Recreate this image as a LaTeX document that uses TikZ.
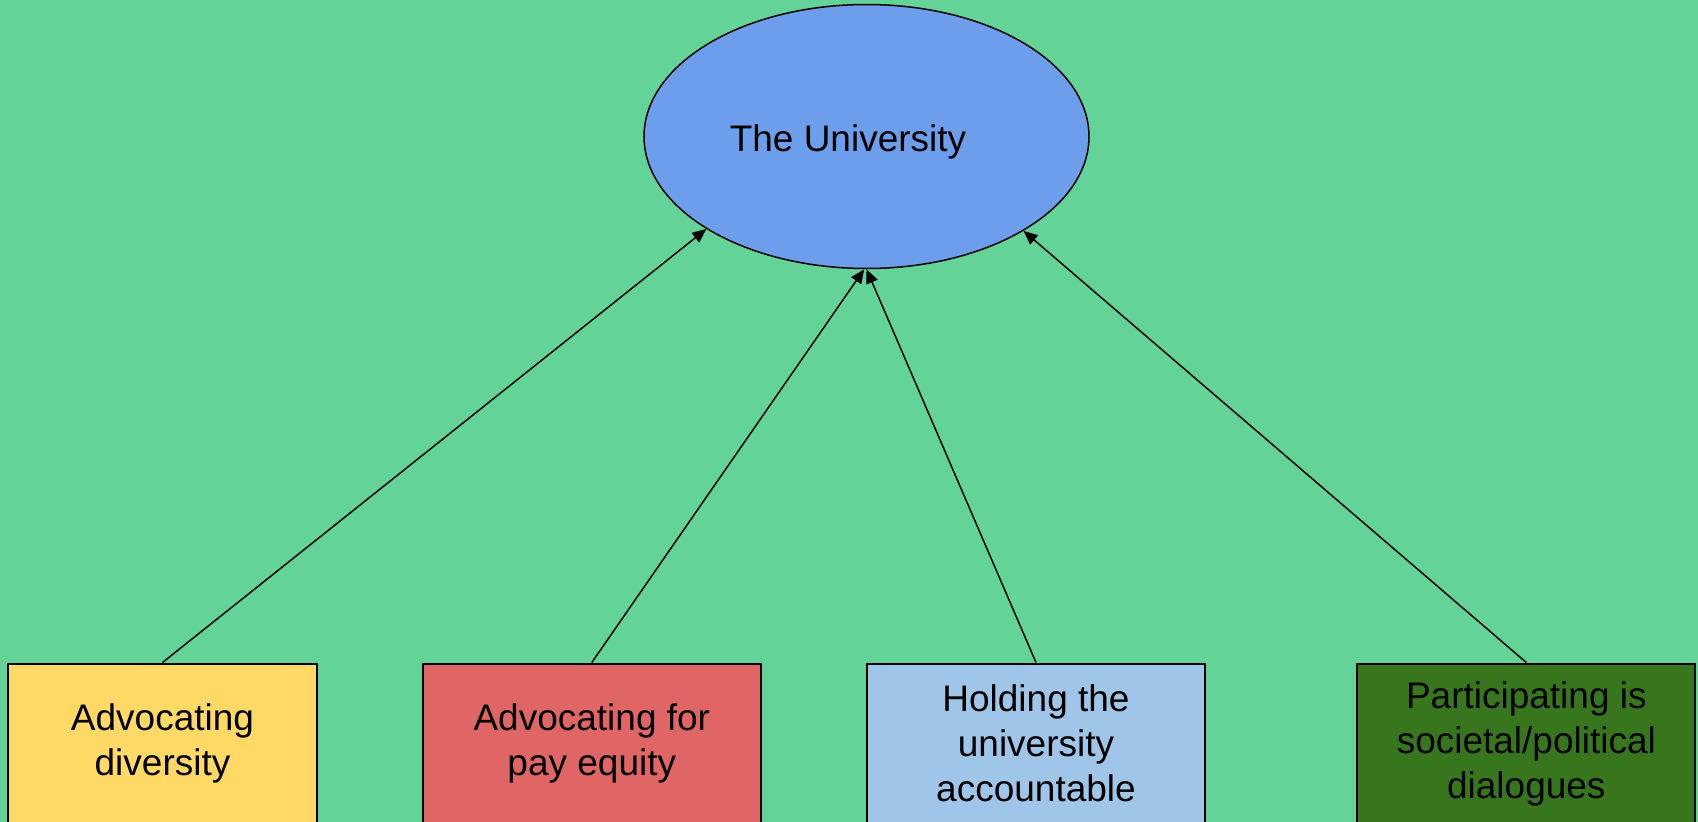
\documentclass[tikz,border=0pt]{standalone}
\usepackage{fontspec}
\setmainfont{Liberation Sans}
\usetikzlibrary{arrows.meta,shapes.geometric}
\definecolor{bggreen}{RGB}{99,211,151}
\definecolor{ublue}{RGB}{109,158,235}
\definecolor{byellow}{RGB}{255,217,102}
\definecolor{bred}{RGB}{224,102,102}
\definecolor{blblue}{RGB}{159,197,232}
\definecolor{bdgreen}{RGB}{56,118,29}
\tikzset{
  box/.style={draw=black, line width=2pt, rectangle, minimum width=309pt, minimum height=160pt, inner sep=0pt, align=center, font=\fontsize{37pt}{45pt}\selectfont},
  conn/.style={line width=1.5pt, -{Triangle[length=14pt,width=12pt]}},
}
\begin{document}
\begin{tikzpicture}[x=1pt,y=-1pt]
\useasboundingbox (0,0) rectangle (1698,822);
\fill[bggreen] (0,0) rectangle (1698,822);
\node[ellipse, draw=black, line width=1.5pt, fill=ublue, minimum width=445pt, minimum height=264pt, inner sep=0pt] (u) at (866.5,136.5) {};
\node[font=\fontsize{37pt}{45pt}\selectfont] (ut) at (848,141.8) {The University};
\node[box, fill=byellow] (b1) at (162.5,743.5) {Advocating\\diversity};
\node[box, fill=bred, minimum width=338pt] (b2) at (591.8,743.5) {Advocating for\\pay equity};
\node[box, fill=blblue, minimum width=338pt] (b3) at (1036,743.5) {Holding the\\university\\accountable};
\node[box, fill=bdgreen, minimum width=338pt] (b4) at (1526.3,743.5) {Participating is\\societal/political\\dialogues};
\draw[conn] (b1.north) -- (u.210.9);
\draw[conn] (b2.north) -- (u.269.7);
\draw[conn] (b3.north) -- (u.270.3);
\draw[conn] (b4.north) -- (u.329.5);
\end{tikzpicture}
\end{document}
